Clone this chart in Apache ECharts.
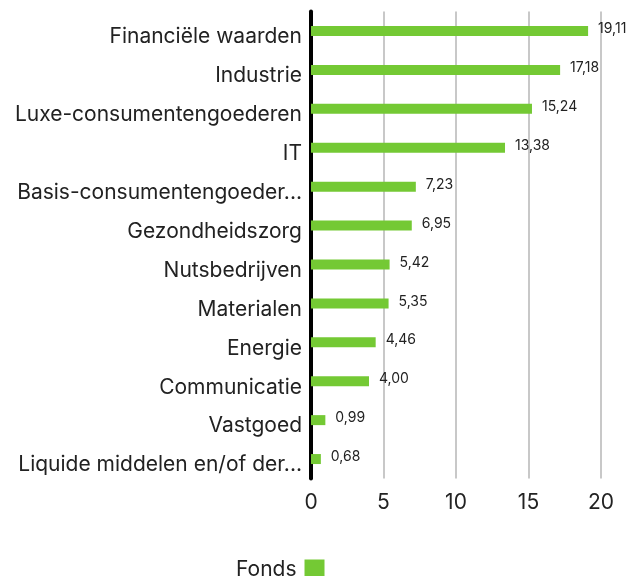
<!DOCTYPE html>
<html lang="nl">
  <head>
    <meta charset="utf-8" />
    <title>Sectorverdeling</title>
    <script src="https://cdn.jsdelivr.net/npm/echarts@6/dist/echarts.min.js"></script>
    <style>
      html, body { margin: 0; padding: 0; background: #fff; }
      #main { width: 638px; height: 576px; }
    </style>
  </head>
  <body>
    <div id="main"></div>
  </body>
  <script>
    // sectoren en wegingen (%)
    let sectors = [
      'Financiële waarden',
      'Industrie',
      'Luxe-consumentengoederen',
      'IT',
      'Basis-consumentengoederen',
      'Gezondheidszorg',
      'Nutsbedrijven',
      'Materialen',
      'Energie',
      'Communicatie',
      'Vastgoed',
      'Liquide middelen en/of derivaten'
    ];
    let fonds = [19.11, 17.18, 15.24, 13.38, 7.23, 6.95, 5.42, 5.35, 4.46, 4.00, 0.99, 0.68];
    let xTicks = [0, 5, 10, 15, 20];

    let green = '#74c934';
    let font = 'Inter, "Noto Sans", sans-serif';

    let chart = echarts.init(document.getElementById('main'));
    let option = {
        animation: false,
        textStyle: { fontFamily: font },
        legend: {
            data: ['Fonds'],
            left: 231,
            top: 554,
            align: 'right',
            itemWidth: 20,
            itemHeight: 20,
            icon: 'rect',
            textStyle: { fontSize: 21, color: '#222', fontFamily: font, padding: [2, 3, 0, 0] }
        },
        grid: {
            left: 311,
            right: 37,
            top: 11.5,
            height: 467
        },
        xAxis: {
            type: 'value',
            min: xTicks[0],
            max: xTicks[xTicks.length - 1],
            interval: 5,
            axisLine: { show: false },
            axisTick: { show: false },
            axisLabel: { fontSize: 21, color: '#222', margin: 14, fontFamily: font },
            splitLine: {
                show: true,
                lineStyle: { color: '#c8c8c8', width: 2 }
            }
        },
        yAxis: {
            type: 'category',
            inverse: true,
            data: sectors,
            axisLine: { show: true, lineStyle: { color: '#000', width: 4 } },
            axisTick: { show: false },
            axisLabel: {
                fontSize: 21,
                color: '#222',
                margin: 9,
                fontFamily: font,
                width: 292,
                overflow: 'truncate',
                verticalAlign: 'top',
                lineHeight: 12
            }
        },
        series: [{
            name: 'Fonds',
            type: 'bar',
            data: fonds,
            barWidth: 10,
            itemStyle: { color: green },
            label: {
                show: true,
                position: 'right',
                distance: 10,
                offset: [0, -2],
                fontSize: 14,
                color: '#222',
                fontFamily: font,
                formatter: function (p) { return p.value.toFixed(2).replace('.', ','); }
            }
        }]
    };
    chart.setOption(option);
  </script>
</html>
